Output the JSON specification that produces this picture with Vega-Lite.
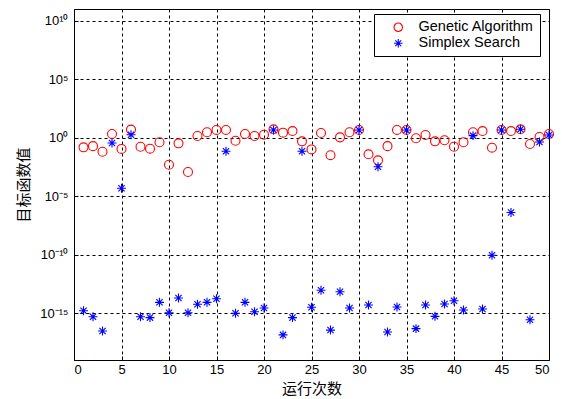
{
  "$schema": "https://vega.github.io/schema/vega-lite/v6.json",
  "width": 475,
  "height": 351,
  "autosize": {"type": "none"},
  "padding": {"left": 74, "top": 9, "right": 13, "bottom": 39},
  "background": "white",
  "config": {"view": {"stroke": "black", "strokeWidth": 1}, "font": "Liberation Sans"},
  "data": {"values": [
    {"run":1,"method":"Genetic Algorithm","value":0.15},
    {"run":2,"method":"Genetic Algorithm","value":0.19},
    {"run":3,"method":"Genetic Algorithm","value":0.063},
    {"run":4,"method":"Genetic Algorithm","value":2.1},
    {"run":5,"method":"Genetic Algorithm","value":0.11},
    {"run":6,"method":"Genetic Algorithm","value":4.9},
    {"run":7,"method":"Genetic Algorithm","value":0.17},
    {"run":8,"method":"Genetic Algorithm","value":0.115},
    {"run":9,"method":"Genetic Algorithm","value":0.41},
    {"run":10,"method":"Genetic Algorithm","value":0.0049},
    {"run":11,"method":"Genetic Algorithm","value":0.33},
    {"run":12,"method":"Genetic Algorithm","value":0.00117},
    {"run":13,"method":"Genetic Algorithm","value":1.4},
    {"run":14,"method":"Genetic Algorithm","value":2.9},
    {"run":15,"method":"Genetic Algorithm","value":4.6},
    {"run":16,"method":"Genetic Algorithm","value":4.6},
    {"run":17,"method":"Genetic Algorithm","value":0.55},
    {"run":18,"method":"Genetic Algorithm","value":2.1},
    {"run":19,"method":"Genetic Algorithm","value":1.4},
    {"run":20,"method":"Genetic Algorithm","value":1.8},
    {"run":21,"method":"Genetic Algorithm","value":5.2},
    {"run":22,"method":"Genetic Algorithm","value":2.7},
    {"run":23,"method":"Genetic Algorithm","value":3.7},
    {"run":24,"method":"Genetic Algorithm","value":0.49},
    {"run":25,"method":"Genetic Algorithm","value":0.10},
    {"run":26,"method":"Genetic Algorithm","value":2.5},
    {"run":27,"method":"Genetic Algorithm","value":0.032},
    {"run":28,"method":"Genetic Algorithm","value":1.07},
    {"run":29,"method":"Genetic Algorithm","value":2.9},
    {"run":30,"method":"Genetic Algorithm","value":4.6},
    {"run":31,"method":"Genetic Algorithm","value":0.038},
    {"run":32,"method":"Genetic Algorithm","value":0.0117},
    {"run":33,"method":"Genetic Algorithm","value":0.19},
    {"run":34,"method":"Genetic Algorithm","value":4.6},
    {"run":35,"method":"Genetic Algorithm","value":4.6},
    {"run":36,"method":"Genetic Algorithm","value":0.89},
    {"run":37,"method":"Genetic Algorithm","value":1.7},
    {"run":38,"method":"Genetic Algorithm","value":0.49},
    {"run":39,"method":"Genetic Algorithm","value":0.60},
    {"run":40,"method":"Genetic Algorithm","value":0.17},
    {"run":41,"method":"Genetic Algorithm","value":0.41},
    {"run":42,"method":"Genetic Algorithm","value":2.9},
    {"run":43,"method":"Genetic Algorithm","value":3.7},
    {"run":44,"method":"Genetic Algorithm","value":0.14},
    {"run":45,"method":"Genetic Algorithm","value":4.6},
    {"run":46,"method":"Genetic Algorithm","value":3.7},
    {"run":47,"method":"Genetic Algorithm","value":5.2},
    {"run":48,"method":"Genetic Algorithm","value":0.29},
    {"run":49,"method":"Genetic Algorithm","value":1.15},
    {"run":50,"method":"Genetic Algorithm","value":2.1},
    {"run":1,"method":"Simplex Search","value":1.6e-15},
    {"run":2,"method":"Simplex Search","value":5e-16},
    {"run":3,"method":"Simplex Search","value":3e-17},
    {"run":4,"method":"Simplex Search","value":0.35},
    {"run":5,"method":"Simplex Search","value":4.8e-5},
    {"run":6,"method":"Simplex Search","value":1.8},
    {"run":7,"method":"Simplex Search","value":5e-16},
    {"run":8,"method":"Simplex Search","value":4.2e-16},
    {"run":9,"method":"Simplex Search","value":8.5e-15},
    {"run":10,"method":"Simplex Search","value":1.1e-15},
    {"run":11,"method":"Simplex Search","value":2e-14},
    {"run":12,"method":"Simplex Search","value":1.1e-15},
    {"run":13,"method":"Simplex Search","value":5.8e-15},
    {"run":14,"method":"Simplex Search","value":8.5e-15},
    {"run":15,"method":"Simplex Search","value":1.7e-14},
    {"run":16,"method":"Simplex Search","value":0.069},
    {"run":17,"method":"Simplex Search","value":9.8e-16},
    {"run":18,"method":"Simplex Search","value":8.5e-15},
    {"run":19,"method":"Simplex Search","value":1.35e-15},
    {"run":20,"method":"Simplex Search","value":2.75e-15},
    {"run":21,"method":"Simplex Search","value":4.6},
    {"run":22,"method":"Simplex Search","value":1.4e-17},
    {"run":23,"method":"Simplex Search","value":4.2e-16},
    {"run":24,"method":"Simplex Search","value":0.069},
    {"run":25,"method":"Simplex Search","value":3.2e-15},
    {"run":26,"method":"Simplex Search","value":9.1e-14},
    {"run":27,"method":"Simplex Search","value":3.6e-17},
    {"run":28,"method":"Simplex Search","value":6.9e-14},
    {"run":29,"method":"Simplex Search","value":2.75e-15},
    {"run":30,"method":"Simplex Search","value":4.6},
    {"run":31,"method":"Simplex Search","value":5e-15},
    {"run":32,"method":"Simplex Search","value":0.0033},
    {"run":33,"method":"Simplex Search","value":2.5e-17},
    {"run":34,"method":"Simplex Search","value":3.4e-15},
    {"run":35,"method":"Simplex Search","value":4.6},
    {"run":36,"method":"Simplex Search","value":4.8e-17},
    {"run":37,"method":"Simplex Search","value":5e-15},
    {"run":38,"method":"Simplex Search","value":5.4e-16},
    {"run":39,"method":"Simplex Search","value":6.2e-15},
    {"run":40,"method":"Simplex Search","value":1.17e-14},
    {"run":41,"method":"Simplex Search","value":1.86e-15},
    {"run":42,"method":"Simplex Search","value":1.5},
    {"run":43,"method":"Simplex Search","value":2.3e-15},
    {"run":44,"method":"Simplex Search","value":8.9e-11},
    {"run":45,"method":"Simplex Search","value":4.6},
    {"run":46,"method":"Simplex Search","value":4e-7},
    {"run":47,"method":"Simplex Search","value":5.2},
    {"run":48,"method":"Simplex Search","value":2.75e-16},
    {"run":49,"method":"Simplex Search","value":0.43},
    {"run":50,"method":"Simplex Search","value":1.7}
  ]},
  "mark": {"type": "point", "filled": false, "strokeWidth": 1.1, "size": 80, "opacity": 1},
  "encoding": {
    "x": {
      "field": "run", "type": "quantitative",
      "scale": {"domain": [0, 50], "nice": false, "zero": false},
      "axis": {
        "values": [0, 5, 10, 15, 20, 25, 30, 35, 40, 45, 50],
        "grid": true, "gridDash": [3, 3], "gridColor": "black", "gridOpacity": 1, "gridWidth": 1,
        "domain": false, "tickSize": -4, "tickColor": "black",
        "labelFontSize": 13, "labelColor": "black", "labelPadding": 7, "labelFont": "Liberation Sans",
        "title": "运行次数", "titleFont": "Noto Sans CJK SC", "titleFontSize": 15,
        "titleFontWeight": "normal", "titleColor": "black", "titlePadding": 5
      }
    },
    "y": {
      "field": "value", "type": "quantitative",
      "scale": {"type": "log", "domain": [1e-19, 1e11], "nice": false},
      "axis": {
        "values": [1e-15, 1e-10, 1e-5, 1, 1e5, 1e10],
        "labelExpr": "round(log(datum.value)/LN10) == 10 ? '10¹⁰' : round(log(datum.value)/LN10) == 5 ? '10⁵' : round(log(datum.value)/LN10) == 0 ? '10⁰' : round(log(datum.value)/LN10) == -5 ? '10⁻⁵' : round(log(datum.value)/LN10) == -10 ? '10⁻¹⁰' : '10⁻¹⁵'",
        "grid": true, "gridDash": [3, 3], "gridColor": "black", "gridOpacity": 1, "gridWidth": 1,
        "domain": false, "tickSize": -4, "tickColor": "black",
        "labelFontSize": 13, "labelColor": "black", "labelPadding": 10, "labelFont": "Liberation Sans",
        "title": "目标函数值", "titleFont": "Noto Sans CJK SC", "titleFontSize": 15,
        "titleFontWeight": "normal", "titleColor": "black", "titlePadding": 8
      }
    },
    "color": {
      "field": "method", "type": "nominal",
      "scale": {"domain": ["Genetic Algorithm", "Simplex Search"], "range": ["#ff0000", "#0000ff"]},
      "legend": {
        "orient": "none", "legendX": 300, "legendY": 5, "title": null,
        "fillColor": "white", "strokeColor": "black", "padding": 6,
        "symbolOffset": 11, "labelOffset": 13, "labelFontSize": 14.5, "labelFont": "Liberation Sans",
        "labelColor": "black", "rowPadding": 1, "symbolSize": 72, "symbolStrokeWidth": 1.1
      }
    },
    "shape": {
      "field": "method", "type": "nominal",
      "scale": {"domain": ["Genetic Algorithm", "Simplex Search"], "range": ["circle", "M-1,0H1M0,-1V1M-0.7,-0.7L0.7,0.7M-0.7,0.7L0.7,-0.7"]}
    }
  }
}
